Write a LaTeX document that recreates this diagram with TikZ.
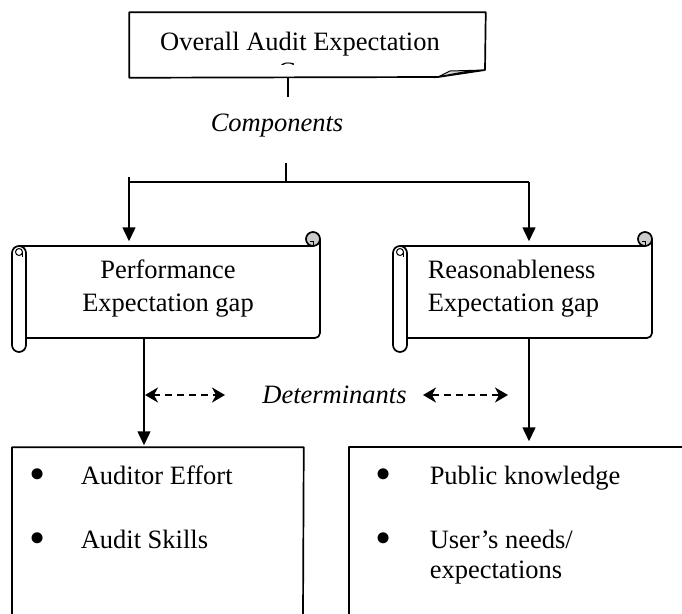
\documentclass[tikz,border=0pt]{standalone}
\usepackage{fontspec}
\setmainfont{Liberation Serif}
\usetikzlibrary{arrows.meta,calc}
\newcommand{\scrollshape}[4]{%
  % #1=x0 #2=y0 #3=x1 #4=y1 (outer extent of the scroll)
  \draw[shapeline] ({#3},{#2+7}) -- ({#3},{#4-19}) arc[start angle=0,end angle=90,radius=5] -- ({#1+14},{#4-14});
  \draw[shapeline] ({#3-7},{#2+14}) -- ({#1+7},{#2+14}) arc[start angle=-90,end angle=-180,radius=7]
     -- ({#1},{#4-7}) arc[start angle=180,end angle=0,radius=7] -- ({#1+14},{#2+21})
     arc[start angle=0,end angle=-90,radius=7];
  \draw[line width=1pt] ({#1+7},{#2+20}) circle[radius=3.5];
  \draw[line width=1pt] ({#1+10.5},{#2+20}) -- ({#1+10.5},{#2+25});
  \draw[shapeline, fill=gray!40] ({#3-7},{#2+7}) circle[radius=7];
  \draw[line width=1pt] ({#3-7},{#2+14}) -- ({#3-7},{#2+9}) -- ({#3-10},{#2+9});
}
\begin{document}
\begin{tikzpicture}[x=1pt,y=-1pt, line width=1.5pt,
  shapeline/.style={line width=1.7pt, line join=round},
  txt/.style={font=\fontsize{26.5}{32}\selectfont, inner sep=0pt},
  itxt/.style={font=\fontsize{26.5}{32}\selectfont\itshape, inner sep=0pt},
  bul/.style={font=\fontsize{46}{46}\selectfont, inner sep=0pt, anchor=center},
  geo/.style={draw=none, inner sep=0pt},
  arr/.style={-{Triangle[length=14pt,width=13pt]}},
  darr/.style={line width=1.6pt, dash pattern=on 7pt off 5pt,
    {Stealth[length=13pt,width=15pt,inset=4pt]}-{Stealth[length=13pt,width=15pt,inset=4pt]}}]
\useasboundingbox (0,0) rectangle (682,613);

% ---- top box (folded corner) ----
\node[geo, minimum width=355pt, minimum height=64pt] (overall) at (307.5,45) {};
\draw[shapeline] (overall.north west) -- (overall.north east) -- (485,70) -- (438,77) -- (overall.south west) -- cycle;
\draw[line width=1pt, fill=gray!30] (438,77) -- (450,71) -- (485,70) .. controls (462,72) .. (438,77) -- cycle;
\node[txt, anchor=base] (overallT) at (300,50) {Overall Audit Expectation};
\begin{scope}
  \clip (130,13) rectangle (485,64);
  \node[txt, anchor=base] (gapT) at (300,80) {Gap};
\end{scope}

% ---- components ----
\coordinate (o1) at (288,97);
\draw (o1 |- overall.south) -- (o1);
\node[itxt, anchor=base] (comp) at (277,131) {Components};
\coordinate (j1) at (286,163);
\coordinate (j2) at (286,182);
\coordinate (hl) at (129,182);
\coordinate (hr) at (529,182);
\coordinate (al) at (129,177);
\draw (j1) -- (j2);
\draw (hl) -- (hr);

% ---- scrolls ----
\node[geo, minimum width=294pt, minimum height=92pt] (perf) at (173,292) {};
\node[geo, minimum width=245pt, minimum height=92pt] (reas) at (529.5,292) {};
\scrollshape{12}{232}{320}{352}
\scrollshape{393}{232}{652}{352}
\node[txt, anchor=base] (perfT1) at (168,278) {Performance};
\node[txt, anchor=base] (perfT2) at (168,311) {Expectation gap};
\node[txt, anchor=base west] (reasT1) at (427,278) {Reasonableness};
\node[txt, anchor=base west] (reasT2) at (427,311) {Expectation gap};

\draw[arr, shorten >=4pt] (al) -- (al |- perf.north);
\draw[arr, shorten >=4pt] (hr) -- (hr |- reas.north);

% ---- bottom boxes ----
\node[geo, minimum width=291pt, minimum height=165pt] (effort) at (157.5,530.5) {};
\node[geo, minimum width=335pt, minimum height=165pt] (public) at (516.5,530.5) {};
\draw[shapeline] (12,616) |- (effort.north east) -- (303,616);
\draw[shapeline] (349,616) |- (public.north east);

\coordinate (pl) at (144,0);
\coordinate (pr) at (529,0);
\draw[arr, shorten >=2pt] (pl |- perf.south) -- (pl |- effort.north);
\draw[arr, shorten >=6pt] (pr |- reas.south) -- (pr |- public.north);

% ---- determinants ----
\node[itxt, anchor=base] (det) at (334.5,403) {Determinants};
\coordinate (dl1) at (145,395);
\coordinate (dl2) at (225,395);
\coordinate (dr1) at (423,395);
\coordinate (dr2) at (508,395);
\draw[darr] (dl1) -- (dl2);
\draw[darr] (dr1) -- (dr2);

% ---- bullet lists ----
\node[bul] (b1) at (38,479) {•};
\node[txt, anchor=base west] (t1) at (80,484) {Auditor Effort};
\node[bul] (b2) at (38,543) {•};
\node[txt, anchor=base west] (t2) at (80,548) {Audit Skills};
\node[bul] (b3) at (384,479) {•};
\node[txt, anchor=base west] (t3) at (429,484) {Public knowledge};
\node[bul] (b4) at (384,543) {•};
\node[txt, anchor=base west] (t4) at (429,548) {User’s needs/};
\node[txt, anchor=base west] (t5) at (429,578) {expectations};
\end{tikzpicture}
\end{document}
